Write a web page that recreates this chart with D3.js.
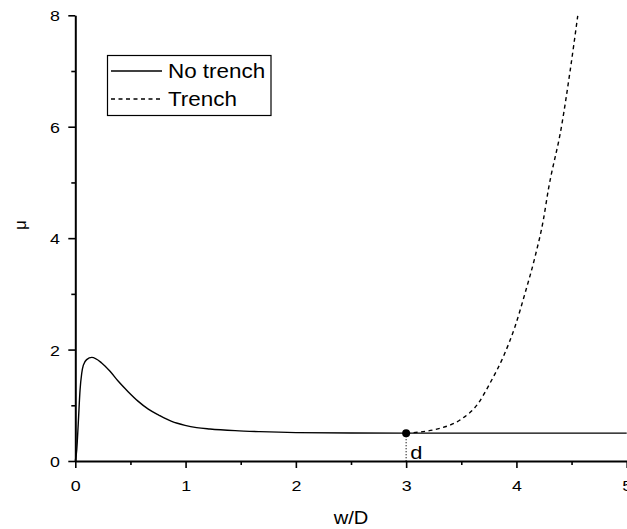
<!DOCTYPE html>
<html>
<head>
<meta charset="utf-8">
<script src="https://cdn.jsdelivr.net/npm/d3@7"></script>
<style>
	body { margin: 0; background: #fff; }
	svg { display: block; }
</style>
</head>
<body>
<svg id="chart"></svg>
<script>
// data
const no_trench_x = [0, 0.013, 0.027, 0.043, 0.058, 0.073, 0.103, 0.15, 0.239, 0.315, 0.39, 0.481, 0.571, 0.662, 0.76, 0.874, 0.995, 1.1, 1.221, 1.45, 1.674, 2.0, 2.5, 3.0, 4.0, 5.0]
const no_trench_y = [0, 0.2, 0.68, 1.27, 1.57, 1.72, 1.82, 1.86, 1.76, 1.61, 1.43, 1.24, 1.07, 0.93, 0.82, 0.71, 0.64, 0.6, 0.575, 0.545, 0.527, 0.51, 0.502, 0.5, 0.5, 0.5]

const trench_x = [3.0, 3.307, 3.488, 3.654, 3.76, 3.881, 3.987, 4.078, 4.169, 4.244, 4.289, 4.411, 4.486, 4.556]
const trench_y = [0.5, 0.587, 0.736, 1.036, 1.395, 1.872, 2.411, 3.01, 3.667, 4.326, 4.864, 6.03, 6.99, 7.99]

const x_ticks = [0, 1, 2, 3, 4, 5]
const x_minor = [0.5, 1.5, 2.5, 3.5, 4.5]
const y_ticks = [0, 2, 4, 6, 8]
const y_minor = [1, 3, 5, 7]

const series_names = ["No trench", "Trench"]
const marker = { x: 3, y: 0.5, label: "d" }

const width = 627
const height = 529
const font = "Arial, 'Liberation Sans', Helvetica, sans-serif"
const stretch = "scale(1.15,1)" // text in the picture is a bit wide

const svg = d3.select("#chart")
	.attr("width", width)
	.attr("height", height)

const x = d3.scaleLinear().domain([0, 5]).range([75.3, 626.7])
const y = d3.scaleLinear().domain([0, 8]).range([461, 15.3])

// minor ticks first so the major axis sits on top
svg.append("g")
	.attr("transform", `translate(0,${y(0)})`)
	.call(d3.axisBottom(x).tickValues(x_minor).tickSize(4).tickSizeOuter(0).tickFormat(""))
	.call(g => g.select(".domain").remove())
	.selectAll("line").attr("stroke-width", 1.6)

svg.append("g")
	.attr("transform", `translate(${x(0)},0)`)
	.call(d3.axisLeft(y).tickValues(y_minor).tickSize(4).tickSizeOuter(0).tickFormat(""))
	.call(g => g.select(".domain").remove())
	.selectAll("line").attr("stroke-width", 1.6)

// x axis
const x_axis = svg.append("g")
	.attr("transform", `translate(0,${y(0)})`)
	.call(d3.axisBottom(x).tickValues(x_ticks).tickSize(7).tickSizeOuter(0).tickFormat(d3.format("d")))
x_axis.select(".domain").attr("stroke-width", 2)
x_axis.selectAll("line").attr("stroke-width", 1.6)
x_axis.selectAll("text")
	.attr("y", 30)
	.attr("dy", null)
	.attr("transform", stretch)
	.style("font-family", font)
	.style("font-size", "15.5px")
	.style("fill", "#000")

// y axis
const y_axis = svg.append("g")
	.attr("transform", `translate(${x(0)},0)`)
	.call(d3.axisLeft(y).tickValues(y_ticks).tickSize(7).tickSizeOuter(0).tickFormat(d3.format("d")))
y_axis.select(".domain").attr("stroke-width", 2)
y_axis.selectAll("line").attr("stroke-width", 1.6)
y_axis.selectAll("text")
	.attr("x", -13.3)
	.attr("dy", "0.36em")
	.attr("transform", stretch)
	.style("font-family", font)
	.style("font-size", "15.5px")
	.style("fill", "#000")

// axis titles
svg.append("text")
	.attr("transform", `translate(${(x(0) + x(5)) / 2},524) ${stretch}`)
	.attr("text-anchor", "middle")
	.text("w/D")
	.style("font-family", font)
	.style("font-size", "17.5px")

svg.append("text")
	.attr("transform", "translate(26,225) rotate(-90)")
	.attr("text-anchor", "middle")
	.text("μ")
	.style("font-family", font)
	.style("font-size", "17px")

// curves
const line = d3.line()
	.x(d => x(d[0]))
	.y(d => y(d[1]))
	.curve(d3.curveMonotoneX)

svg.append("path")
	.datum(d3.zip(no_trench_x, no_trench_y))
	.attr("d", line)
	.attr("fill", "none")
	.attr("stroke", "#000")
	.attr("stroke-width", 1.4)

svg.append("path")
	.datum(d3.zip(trench_x, trench_y))
	.attr("d", line)
	.attr("fill", "none")
	.attr("stroke", "#000")
	.attr("stroke-width", 1.4)
	.attr("stroke-dasharray", "4,3.5")

// marker d
svg.append("line")
	.attr("x1", x(marker.x)).attr("x2", x(marker.x))
	.attr("y1", y(marker.y)).attr("y2", y(0))
	.attr("stroke", "#000")
	.attr("stroke-width", 1.2)
	.attr("stroke-dasharray", "1,2")

svg.append("circle")
	.attr("cx", x(marker.x))
	.attr("cy", y(marker.y))
	.attr("r", 4)
	.attr("fill", "#000")

svg.append("text")
	.attr("transform", `translate(${x(marker.x) + 4},459) ${stretch}`)
	.text(marker.label)
	.style("font-family", font)
	.style("font-size", "19px")

// legend
const legend = svg.append("g")
legend.append("rect")
	.attr("x", 107.5).attr("y", 55.5)
	.attr("width", 163.5).attr("height", 60)
	.attr("fill", "#fff")
	.attr("stroke", "#000")
	.attr("stroke-width", 1.2)

series_names.forEach((name, i) => {
	const ly = 71 + i * 28
	legend.append("line")
		.attr("x1", 111).attr("x2", 162)
		.attr("y1", ly).attr("y2", ly)
		.attr("stroke", "#000")
		.attr("stroke-width", 1.4)
		.attr("stroke-dasharray", i == 1 ? "4,3.5" : null)
	legend.append("text")
		.attr("transform", `translate(168,${ly + 7}) ${stretch}`)
		.text(name)
		.style("font-family", font)
		.style("font-size", "19.5px")
})
</script>
</body>
</html>
